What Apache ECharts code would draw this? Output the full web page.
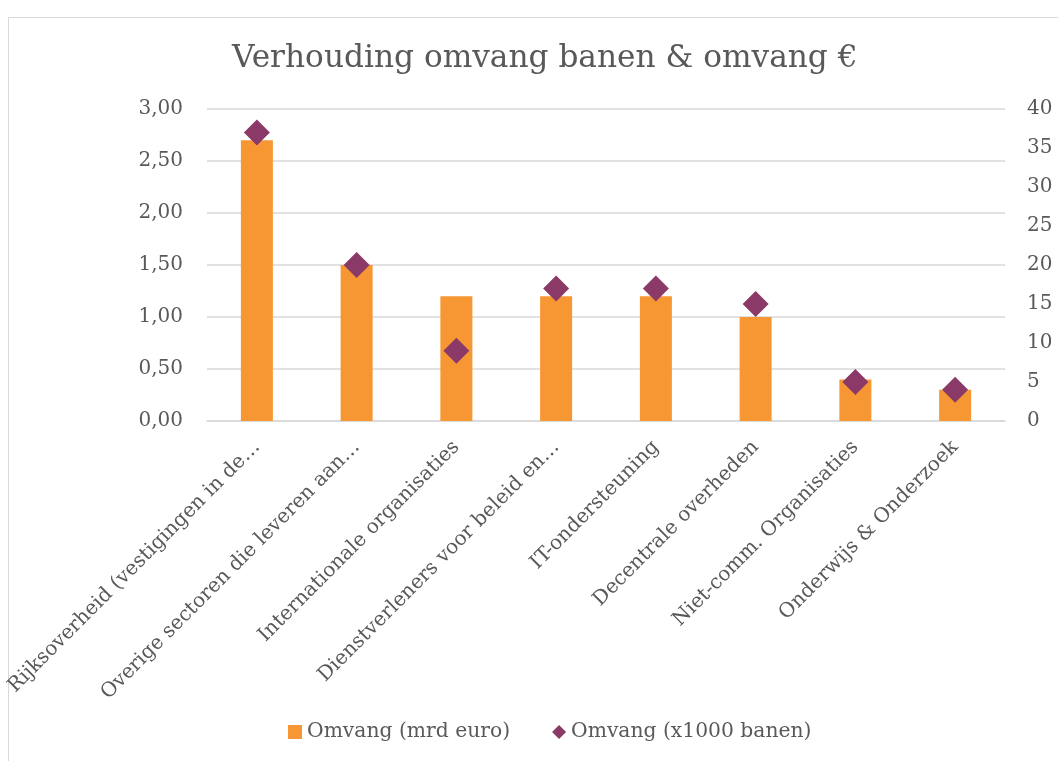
<!DOCTYPE html>
<html><head><meta charset="utf-8">
<script src="https://cdn.jsdelivr.net/npm/echarts@6/dist/echarts.min.js"></script>
<style>html,body{margin:0;padding:0;background:#fff}#c{width:1058px;height:761px}</style>
</head><body><div id="c"></div>
<script>
const categories = ["Rijksoverheid (vestigingen in de…","Overige sectoren die leveren aan…","Internationale organisaties","Dienstverleners voor beleid en…","IT-ondersteuning","Decentrale overheden","Niet-comm. Organisaties","Onderwijs & Onderzoek"];
const omvangEuro = [2.70,1.50,1.20,1.20,1.20,1.00,0.40,0.30];
const omvangBanen = [37,20,9,17,17,15,5,4];
const seriesNames = ["Omvang (mrd euro)","Omvang (x1000 banen)"];
const titleText = "Verhouding omvang banen & omvang €";

const FONT = "DejaVu Serif";
const TXT = "#595959";
const chart = echarts.init(document.getElementById('c'));
chart.setOption({
  animation:false,
  backgroundColor:'#fff',
  graphic:[{type:'rect',shape:{x:8.5,y:17.5,width:1200,height:900},style:{fill:'none',stroke:'#d9d9d9',lineWidth:1},silent:true,z:-1}],
  title:{text:titleText,left:227,top:38,textStyle:{fontFamily:FONT,fontSize:31.2,fontWeight:'normal',color:TXT}},
  legend:{bottom:14,left:283,itemGap:42,itemWidth:14,itemHeight:14,textStyle:{fontFamily:FONT,fontSize:20.3,color:TXT},
    data:[{name:seriesNames[0],icon:'rect'},{name:seriesNames[1],icon:'diamond'}]},
  grid:{left:207,right:53,top:109,bottom:340},
  xAxis:{type:'category',data:categories,
    axisLine:{lineStyle:{color:'#d9d9d9',width:1.5}},axisTick:{show:false},
    axisLabel:{rotate:45,interval:0,fontFamily:FONT,fontSize:20,color:TXT,margin:23}},
  yAxis:[
    {type:'value',min:0,max:3,interval:0.5,
     axisLabel:{fontFamily:FONT,fontSize:20,color:TXT,margin:24,formatter:v=>v.toFixed(2).replace('.',',')},
     splitLine:{lineStyle:{color:'#d9d9d9',width:1.5}},axisLine:{show:false},axisTick:{show:false}},
    {type:'value',min:0,max:40,interval:5,position:'right',
     axisLabel:{fontFamily:FONT,fontSize:20,color:TXT,margin:22},
     splitLine:{show:false},axisLine:{show:false},axisTick:{show:false}}
  ],
  series:[
    {name:seriesNames[0],type:'bar',data:omvangEuro,barWidth:32,itemStyle:{color:'#F79733'},yAxisIndex:0},
    {name:seriesNames[1],type:'scatter',data:omvangBanen,yAxisIndex:1,symbol:'diamond',symbolSize:26,itemStyle:{color:'#8B3A67',opacity:1}}
  ]
});
</script></body></html>
